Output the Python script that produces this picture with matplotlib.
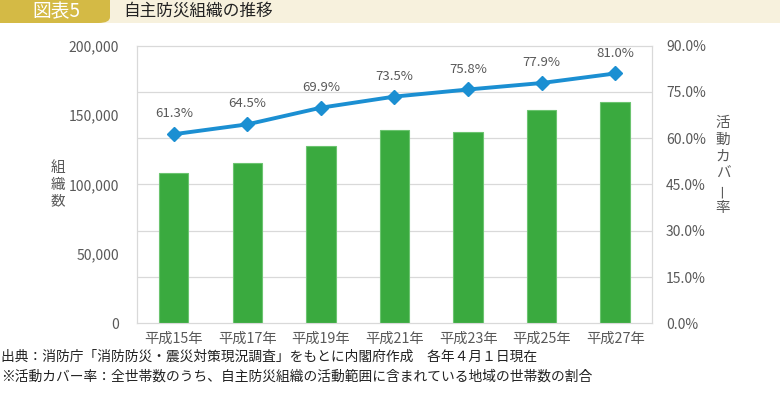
import matplotlib.pyplot as plt
from matplotlib.patches import FancyBboxPatch, Rectangle
from matplotlib.ticker import FuncFormatter, MultipleLocator

plt.rcParams['font.family'] = ['Noto Sans CJK JP', 'DejaVu Sans']

# data
years = ["平成15年", "平成17年", "平成19年", "平成21年", "平成23年", "平成25年", "平成27年"]
org_counts = [108200, 115500, 127600, 139200, 137500, 153400, 159700]
coverage = [61.3, 64.5, 69.9, 73.5, 75.8, 77.9, 81.0]

GRAY = "#595959"
GREEN = "#3AAA3F"
BLUE = "#1B8FD2"
GOLD = "#D4BA45"
CREAM = "#F7F1DD"

fig = plt.figure(figsize=(7.8, 3.97), dpi=100)

# header band
fig.patches.append(Rectangle((0, 1 - 23 / 397), 1, 23 / 397, transform=fig.transFigure,
                             facecolor=CREAM, edgecolor="none", zorder=0))
fig.patches.append(FancyBboxPatch((-0.02, 1 - 23 / 397), 0.02 + 110 / 780, 0.08,
                                  boxstyle="round,pad=0,rounding_size=0.015",
                                  transform=fig.transFigure, facecolor=GOLD,
                                  edgecolor="none", zorder=1))
fig.text(56 / 780, 1 - 11.5 / 397, "図表5", color="white", fontsize=13.5,
         ha="center", va="center")
fig.text(123 / 780, 1 - 11.5 / 397, "自主防災組織の推移", color="#222222", fontsize=12,
         ha="left", va="center")

# bars on the left axis, line on the right axis
ax = fig.add_axes([137 / 780, 1 - 323.3 / 397, 515 / 780, (323.3 - 45.7) / 397])
ax2 = ax.twinx()
ax2.set_zorder(1)
ax.set_zorder(2)
ax.patch.set_visible(False)
ax2.patch.set_facecolor("white")

x = list(range(len(years)))
ax.bar(x, org_counts, width=0.4, color=GREEN, edgecolor="#6CC470", linewidth=0.8, zorder=2)
ax.set_ylim(0, 200000)
ax.set_xlim(-0.5, len(years) - 0.5)
ax.yaxis.set_major_locator(MultipleLocator(50000))
ax.yaxis.set_major_formatter(FuncFormatter(lambda v, p: f"{int(v):,}"))
ax.set_xticks(x)
ax.set_xticklabels(years)

ax2.set_ylim(0, 90)
ax2.yaxis.set_major_locator(MultipleLocator(15))
ax2.yaxis.set_major_formatter(FuncFormatter(lambda v, p: f"{v:.1f}%"))
# gridlines follow the right axis
for g in range(15, 90, 15):
    ax2.axhline(g, color="#D9D9D9", linewidth=0.9, zorder=0)

for a in (ax, ax2):
    for s in a.spines.values():
        s.set_color("#D9D9D9")
    a.tick_params(length=0, colors=GRAY, labelsize=10)
ax.tick_params(axis="y", pad=13)
ax.tick_params(axis="x", pad=6, labelsize=10.3)
ax2.tick_params(axis="y", pad=10)

# line drawn over the bars on a top axis
ax3 = ax.twinx()
ax3.set_ylim(0, 90)
ax3.set_zorder(3)
ax3.axis("off")
ax3.plot(x, coverage, color=BLUE, linewidth=2.8, marker="D", markersize=7,
         markeredgecolor=BLUE)
for i, v in enumerate(coverage):
    ax3.annotate(f"{v:.1f}%", (i, v), xytext=(0, 10), textcoords="offset points",
                 ha="center", va="bottom", fontsize=9.5, color=GRAY)

# axis titles (vertical text)
for k, ch in enumerate(["組", "織", "数"]):
    fig.text(58 / 780, 1 - (168 + k * 16.5) / 397, ch, color=GRAY, fontsize=10.5,
             ha="center", va="center")
for k, ch in enumerate(["活", "動", "カ", "バ", "ー", "率"]):
    fig.text(723 / 780, 1 - (123 + k * 17) / 397, ch, color=GRAY, fontsize=10.5,
             ha="center", va="center", rotation=90 if ch == "ー" else 0)

fig.text(1 / 780, 1 - 357 / 397,
         "出典：消防庁「消防防災・震災対策現況調査」をもとに内閣府作成　各年４月１日現在",
         fontsize=9.9, color="#222222", ha="left", va="center")
fig.text(1 / 780, 1 - 377 / 397,
         "※活動カバー率：全世帯数のうち、自主防災組織の活動範囲に含まれている地域の世帯数の割合",
         fontsize=9.9, color="#222222", ha="left", va="center")

fig.savefig("out.png", dpi=100)
